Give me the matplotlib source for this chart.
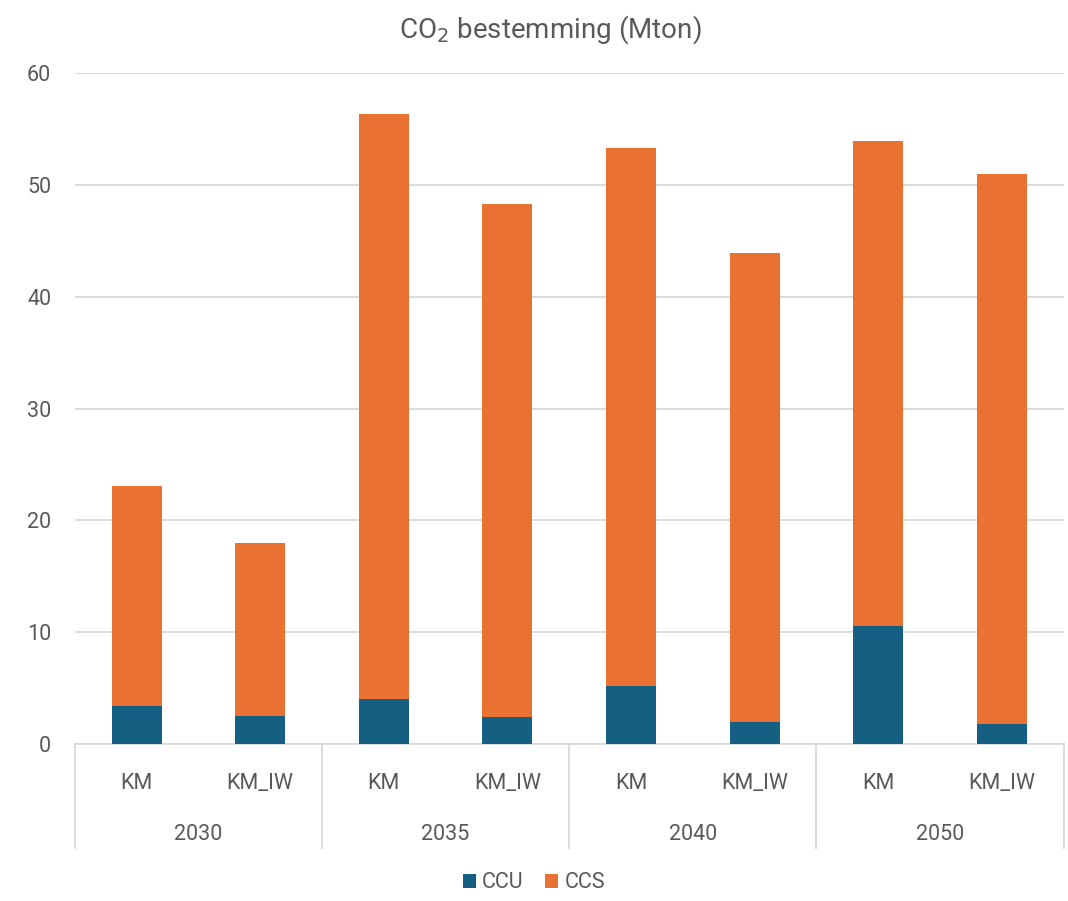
import matplotlib
matplotlib.use("Agg")
import matplotlib.pyplot as plt
import matplotlib.transforms as mtransforms
import numpy as np

plt.rcParams['font.family'] = ['Roboto', 'DejaVu Sans']

years = ['2030', '2035', '2040', '2050']
scenarios = ['KM', 'KM_IW']
ccu = [3.4, 2.5, 4.0, 2.4, 5.2, 2.0, 10.6, 1.8]
total = [23.1, 18.0, 56.3, 48.3, 53.3, 43.9, 53.9, 51.0]
ccs = [t - c for t, c in zip(total, ccu)]
ccu_color = '#156082'
ccs_color = '#E97132'
text_color = '#595959'
grid_color = '#D9D9D9'

fig = plt.figure(figsize=(10.68, 9.01), dpi=100)
ax = fig.add_axes([0.070, 0.174, 0.926, 0.745])

x = np.arange(len(ccu))
ax.bar(x, ccu, width=0.405, color=ccu_color, label='CCU', zorder=3)
ax.bar(x, ccs, width=0.405, bottom=ccu, color=ccs_color, label='CCS', zorder=3)

ax.set_xlim(-0.5, len(ccu) - 0.5)
ax.set_ylim(0, 60)
ax.set_yticks(range(0, 61, 10))
ax.yaxis.grid(True, color=grid_color, linewidth=1.3, zorder=0)
ax.tick_params(axis='y', length=0, labelsize=15.5, labelcolor=text_color, pad=17)
ax.set_xticks([])
for s in ['top', 'right', 'left']:
    ax.spines[s].set_visible(False)
ax.spines['bottom'].set_color(grid_color)
ax.spines['bottom'].set_linewidth(1.3)

# two-level category axis
trans = mtransforms.blended_transform_factory(ax.transData, ax.transAxes)
for i in range(len(years) + 1):
    xs = -0.5 + 2 * i
    ax.plot([xs, xs], [0, -0.155], transform=trans, color=grid_color,
            linewidth=1.3, clip_on=False)
for i, xi in enumerate(x):
    ax.text(xi, -0.058, scenarios[i % 2], transform=trans, ha='center',
            va='center', fontsize=15.5, color=text_color)
for j, yr in enumerate(years):
    ax.text(0.5 + 2 * j, -0.134, yr, transform=trans, ha='center',
            va='center', fontsize=15.5, color=text_color)

fig.text(0.515, 0.967, 'CO$_2$ bestemming (Mton)', ha='center', va='center',
         fontsize=20, color=text_color)

fig.legend(loc='center', bbox_to_anchor=(0.5, 0.02), ncol=2, frameon=False,
           fontsize=15.5, labelcolor=text_color, handlelength=0.6,
           handleheight=0.6, handletextpad=0.3, columnspacing=1.0)

fig.savefig('out.png', dpi=100)
